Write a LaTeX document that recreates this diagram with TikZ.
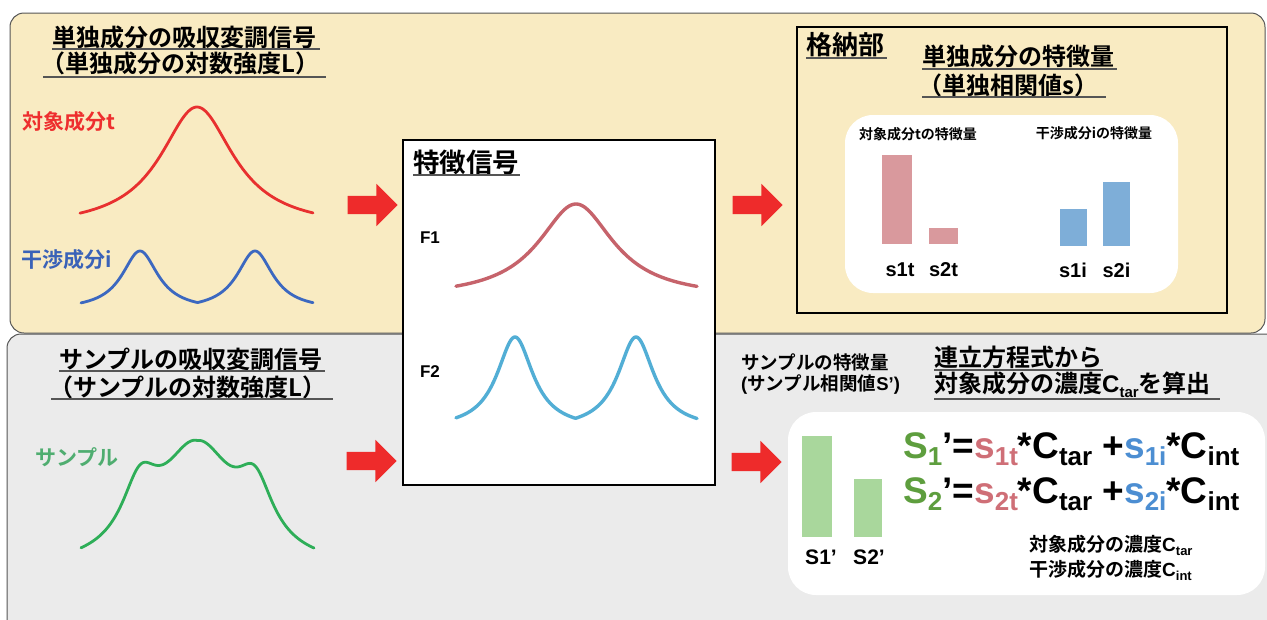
\documentclass[tikz,border=0pt]{standalone}
\usepackage{fontspec}
\setmainfont{Liberation Sans}
\newfontfamily\jp{Noto Sans CJK JP}[BoldFont={Noto Sans CJK JP Bold}]
\usetikzlibrary{shapes.arrows}
\newcommand\fsz[1]{\fontsize{#1}{#1}\selectfont}
\newcommand\eqsub[1]{\raisebox{-7.5pt}{\fsz{26}#1}}
\definecolor{yellowbg}{HTML}{F9EBC2}
\definecolor{graybg}{HTML}{EBEBEB}
\definecolor{panelborder}{HTML}{555555}
\definecolor{ulgray}{HTML}{555555}
\definecolor{arrowred}{HTML}{EE2B2B}
\definecolor{curvered}{HTML}{E8302F}
\definecolor{curveblue}{HTML}{3C68C0}
\definecolor{curvegreen}{HTML}{2EAE58}
\definecolor{fone}{HTML}{C6636B}
\definecolor{ftwo}{HTML}{52AED5}
\definecolor{barpink}{HTML}{D9999D}
\definecolor{barblue}{HTML}{7EAED8}
\definecolor{bargreen}{HTML}{A9D79C}
\definecolor{textred}{HTML}{EE2E2E}
\definecolor{textblue}{HTML}{3A62B8}
\definecolor{textgreen}{HTML}{4FAD70}
\definecolor{eqgreen}{HTML}{5E9E3E}
\definecolor{eqpink}{HTML}{CF6F77}
\definecolor{eqblue}{HTML}{4C8ED2}
\begin{document}
\begin{tikzpicture}[x=1pt,y=-1pt,
  declare function={lor(\lx,\lc,\lw)=1/(1+((\lx-\lc)/\lw)*((\lx-\lc)/\lw));},
  ttl/.style={font=\bfseries, text=black, inner sep=0pt, anchor=west},
  ul/.style={draw=ulgray, line width=1.3pt},
  redarrow/.style={single arrow, fill=arrowred, draw=none, minimum height=50pt,
    single arrow head extend=12pt, inner xsep=0pt, inner ysep=9pt},
  curve/.style={line width=2.8pt, line cap=round, line join=round},
  fcurve/.style={line width=3.4pt, line cap=round, line join=round},
  barlbl/.style={font=\bfseries\fsz{20}, inner sep=0pt}
]
\clip (0,0) rectangle (1267,619);
% panels
\draw[fill=yellowbg, draw=panelborder, line width=1pt, rounded corners=14pt] (10,13) rectangle (1265,333);
\draw[fill=graybg, draw=panelborder, line width=1pt, rounded corners=14pt] (7,334) rectangle (1290,650);

% ---- top left
\node[ttl] (t1a) at (52,37) {\fsz{24}\jp 単独成分の吸収変調信号};
\draw[ul] (52,49) -- (320,49);
\node[ttl] (t1b) at (41,63) {\fsz{24}\jp （単独成分の対数強度L）};
\draw[ul] (43,77) -- (326,77);
\node[ttl, text=textred] (tgt) at (22,122) {\fsz{21}\jp 対象成分t};
\node[ttl, text=textblue] (itf) at (21,260) {\fsz{21}\jp 干渉成分i};
\draw[curve, curvered] plot[domain=80:313, samples=160] (\x,{213-106*(lor(\x,197,45)-0.13)/0.87});
\draw[curve, curveblue] plot[domain=81:313, samples=200] (\x,{303-52*(max(lor(\x,140,22),lor(\x,255,22))-0.12)/0.88});

% ---- bottom left
\node[ttl] (t2a) at (59,359) {\fsz{24}\jp サンプルの吸収変調信号};
\draw[ul] (59,371) -- (325,371);
\node[ttl] (t2b) at (49,387) {\fsz{24}\jp （サンプルの対数強度L）};
\draw[ul] (51,399) -- (333,399);
\node[ttl, text=textgreen] (smp) at (35,457) {\fsz{21}\jp サンプル};
\draw[curve, curvegreen] plot[domain=81:314, samples=220] (\x,{548-107*(lor(\x,197,45)-0.13)/0.87-52*(max(lor(\x,140,22),lor(\x,255,22))-0.12)/0.88});

% ---- arrows
\node[redarrow] (a1) at (368,205) {};
\node[redarrow] (a2) at (367,461) {};
\node[redarrow] (a3) at (753,205) {};
\node[redarrow] (a4) at (752,462) {};

% ---- feature signal box
\draw[fill=white, draw=black, line width=1.2pt] (403,140) rectangle (715,485);
\node[ttl] (fs) at (413,162) {\fsz{26.5}\jp 特徴信号};
\draw[ul] (413,175) -- (520,175);
\node[font=\bfseries\fsz{17}, inner sep=0pt] (f1) at (430,238) {F1};
\node[font=\bfseries\fsz{17}, inner sep=0pt] (f2) at (430,372) {F2};
\draw[fcurve, fone] plot[domain=456:697, samples=160] (\x,{286-82*(lor(\x,576,46)-0.13)/0.87});
\draw[fcurve, ftwo] plot[domain=456:697, samples=200] (\x,{418-81*(max(lor(\x,515,22),lor(\x,636,22))-0.12)/0.88});

% ---- storage box
\draw[draw=black, line width=1.5pt] (797,27) rectangle (1227,313);
\node[ttl] (stg) at (806,45) {\fsz{26}\jp 格納部};
\draw[ul] (806,58) -- (887,58);
\node[ttl] (st1) at (922,56) {\fsz{24}\jp 単独成分の特徴量};
\draw[ul] (922,69) -- (1117,69);
\node[ttl] (st2) at (918,85) {\fsz{24}\jp （単独相関値s）};
\draw[ul] (922,97) -- (1106,97);
\fill[white, rounded corners=28pt] (845,115) rectangle (1178,293);
\node[font=\bfseries\fsz{14}, inner sep=0pt] (tf) at (918,134) {\jp 対象成分tの特徴量};
\node[font=\bfseries\fsz{14}, inner sep=0pt] (iff) at (1094,133) {\jp 干渉成分iの特徴量};
\fill[barpink] (882,155) rectangle (912,244);
\fill[barpink] (929,228) rectangle (958,244);
\fill[barblue] (1060,209) rectangle (1087,246);
\fill[barblue] (1103,182) rectangle (1130,246);
\node[barlbl] (l1t) at (900,270) {s1t};
\node[barlbl] (l2t) at (943.5,270) {s2t};
\node[barlbl] (l1i) at (1073,270) {s1i};
\node[barlbl] (l2i) at (1116.5,270) {s2i};

% ---- bottom right
\node[ttl] (sf1) at (741,362) {\fsz{18.5}\jp サンプルの特徴量};
\node[ttl] (sf2) at (741,385) {\fsz{18.5}({\jp サンプル相関値}S’)};
\node[ttl] (eqt1) at (934,357) {\fsz{24}\jp 連立方程式から};
\draw[ul] (934,370) -- (1103,370);
\node[ttl] (eqt2) at (934,385) {\fsz{24}{\jp 対象成分の濃度}C\raisebox{-5pt}{\fsz{15}tar}{\jp を算出}};
\draw[ul] (934,399) -- (1220,399);

\fill[white, rounded corners=28pt] (788,412) rectangle (1265,595);
\fill[bargreen] (802,436) rectangle (832,537);
\fill[bargreen] (854,479) rectangle (882,537);
\node[font=\bfseries\fsz{21}, inner sep=0pt] (ls1) at (821,557) {S1’};
\node[font=\bfseries\fsz{21}, inner sep=0pt] (ls2) at (869,557) {S2’};

\node[font=\bfseries\fsz{37}, inner sep=0pt, anchor=base west] (eq1) at (903,458)
  {{\color{eqgreen}S\eqsub{1}}’={\color{eqpink}s\eqsub{1t}}*C\eqsub{tar} +{\color{eqblue}s\eqsub{1i}}*C\eqsub{int}};
\node[font=\bfseries\fsz{37}, inner sep=0pt, anchor=base west] (eq2) at (903,503)
  {{\color{eqgreen}S\eqsub{2}}’={\color{eqpink}s\eqsub{2t}}*C\eqsub{tar} +{\color{eqblue}s\eqsub{2i}}*C\eqsub{int}};

\node[ttl] (ct) at (1029,545) {\fsz{19}{\jp 対象成分の濃度}C\raisebox{-4pt}{\fsz{13}tar}};
\node[ttl] (ci) at (1029,570) {\fsz{19}{\jp 干渉成分の濃度}C\raisebox{-4pt}{\fsz{13}int}};
\end{tikzpicture}
\end{document}
